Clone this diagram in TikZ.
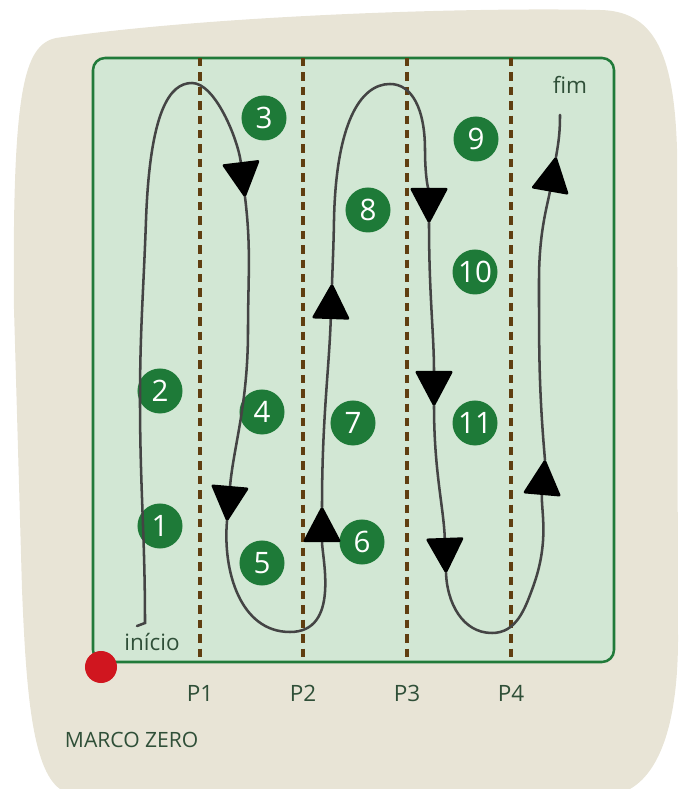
\documentclass[tikz,border=0pt]{standalone}
\usepackage{fontspec}
\setmainfont{Open Sans}
\usetikzlibrary{arrows.meta, positioning}
\definecolor{paper}{RGB}{232, 228, 214}
\definecolor{field}{RGB}{210, 231, 212}
\definecolor{fieldline}{RGB}{33, 122, 58}
\definecolor{badge}{RGB}{30, 122, 56}
\definecolor{pole}{RGB}{96, 62, 16}
\definecolor{routegray}{RGB}{68, 68, 68}
\definecolor{ink}{RGB}{47, 79, 56}
\definecolor{zero}{RGB}{208, 22, 31}

\begin{document}
\begin{tikzpicture}[x=0.025cm, y=0.025cm]%
        \tikzstyle{num} = [circle, fill=badge, minimum size=1.125cm, inner sep=0pt, text=white, font=\fontsize{21}{21}\selectfont]
        \tikzstyle{lbl} = [text=ink, font=\fontsize{16}{16}\selectfont]
        \tikzstyle{divider} = [pole, line width=2.3pt, dash pattern=on 0.21cm off 0.15cm]
        \tikzstyle{route} = [routegray, line width=1.8pt, line cap=round]
        \tikzstyle{tip} = [-{Triangle[length=26pt, width=27pt, round, color=black]}]

        \useasboundingbox (0,0) rectangle (678,789);

        % paper and field
        \fill[paper] (56,751) .. controls (200,772) and (450,782) .. (600,779)
          .. controls (652,778) and (674,740) .. (677,640) -- (678,150)
          .. controls (678,80) and (665,20) .. (630,0) -- (60,0)
          .. controls (32,20) and (26,100) .. (22,200) -- (14,480)
          .. controls (12,700) and (24,744) .. (56,751) -- cycle;
        \draw[fill=field, draw=fieldline, line width=1.8pt, rounded corners=0.3cm] (93,127) rectangle (614,731);

        \foreach \x [count=\i] in {200, 303, 407, 511}{
          \coordinate (top\i) at (\x,731);
          \coordinate (bot\i) at (\x,127);
          \draw[divider] (top\i) -- (bot\i);
          \node[lbl] (p\i) at (\x,96) {P\i};
        }

        \foreach \n/\x/\y in {1/160/263, 2/160/398, 3/264/671, 4/262/377, 5/262/226, 6/362/247,
                              7/353/366, 8/368/579, 9/476/650, 10/475/517, 11/475/366}{
          \node[num] (n\n) at (\x,\y) {\n};
        }

        \node[circle, fill=zero, minimum size=0.8cm, inner sep=0pt] (zero) at (101,122) {};
        \node[lbl] (inicio) at (152,147) {início};
        \node[lbl] (fim) at (570,704) {fim};
        \node[lbl, font=\fontsize{15}{15}\selectfont, anchor=west] (marco) at (60,49) {MARCO ZERO};

        % route
        \coordinate (s0) at (137,163);
        \coordinate (s1) at (145,166);
        \coordinate (l1) at (140,389);
        \coordinate (l2) at (146,569);
        \coordinate (top1) at (192,706);
        \coordinate (a1) at (245,592);
        \coordinate (m1) at (248,459);
        \coordinate (a2) at (227,268);
        \coordinate (b1) at (290,157);
        \coordinate (a3) at (322,282);
        \coordinate (a4) at (332,505);
        \coordinate (l3) at (334,569);
        \coordinate (top2) at (390,705);
        \coordinate (r2) at (425,639);
        \coordinate (a5) at (429,566);
        \coordinate (a6) at (434,383);
        \coordinate (a7) at (446,216);
        \coordinate (b2) at (492,156);
        \coordinate (r3) at (533,202);
        \coordinate (a8) at (545,329);
        \coordinate (m9) at (539,509);
        \coordinate (a9) at (556,632);
        \coordinate (fin) at (560,674);

        \draw[route, tip] (s0) -- (s1) to[out=90, in=-90] (l1) to[out=90, in=-92] (l2)
          .. controls (150,679) and (170,706) .. (top1)
          .. controls (215,706) and (238,650) .. (a1);
        \draw[route, tip] (a1) to[out=-83, in=90] (m1) to[out=-90, in=85] (a2);
        \draw[route, tip] (a2) to[out=-95, in=180] (b1) to[out=0, in=-90] (a3);
        \draw[route, tip] (a3) to[out=90, in=-92] (a4);
        \draw[route, tip] (a4) to[out=88, in=-91] (l3)
          .. controls (336,665) and (360,705) .. (top2)
          .. controls (412,705) and (425,680) .. (r2) to[out=-90, in=90] (a5);
        \draw[route, tip] (a5) to[out=-90, in=90] (a6);
        \draw[route, tip] (a6) to[out=-90, in=92] (a7);
        \draw[route, tip] (a7) to[out=-88, in=180] (b2) to[out=0, in=-110] (r3) to[out=70, in=-95] (a8);
        \draw[route, tip] (a8) to[out=95, in=-90] (m9) to[out=90, in=-100] (a9);
        \draw[route] (a9) to[out=80, in=-90] (fin);
      \end{tikzpicture}
\end{document}
